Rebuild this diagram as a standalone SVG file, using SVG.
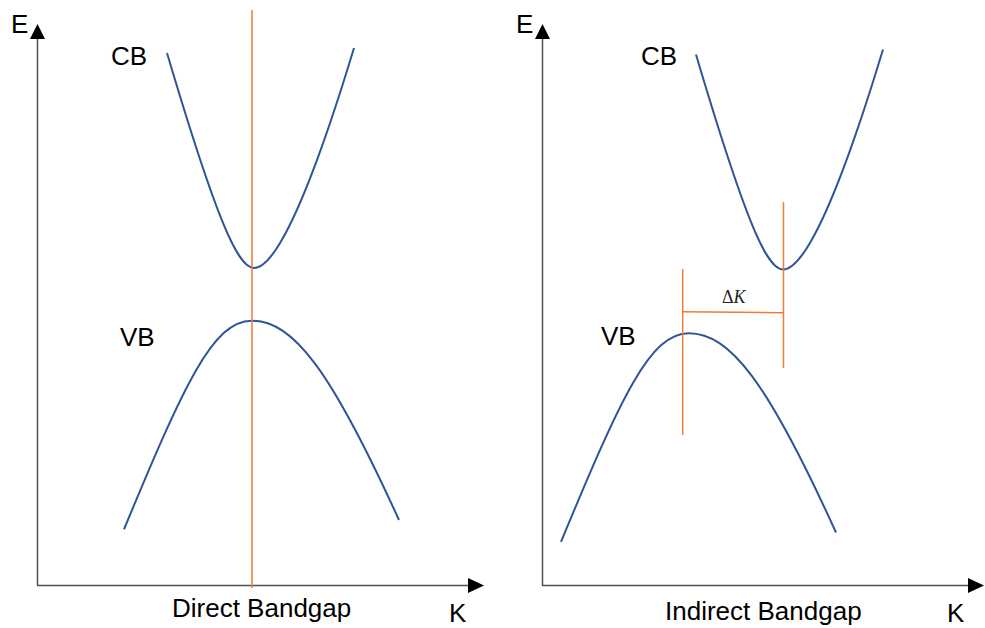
<svg xmlns="http://www.w3.org/2000/svg" width="985" height="628" viewBox="0 0 985 628">
<style>
.axis{stroke:#505050;stroke-width:1.5;fill:none}
.head{fill:#000}
.band{stroke:#2F5597;stroke-width:2;fill:none}
.mark{stroke:#ED7D31;stroke-width:1.5;fill:none}
.lbl{font-family:"Liberation Sans",Arial,sans-serif;font-size:26px;fill:#000}
.dk{font-family:"Liberation Serif","DejaVu Serif",serif;font-size:18px;fill:#222}
</style>
<defs>
<path id="cb" d="M167,53 C217.7,223.9 238.5,268 254,268 C271.8,268 302.6,217.6 354,48"/>
<path id="vb" d="M124,529.3 C184.3,384 213.1,320.7 251.7,320.7 C292.9,320.7 330.2,368.6 399,520"/>
</defs>
<rect width="985" height="628" fill="#fff"/>
<g id="direct-bandgap">
  <g id="axes-left">
    <line class="axis" x1="37.5" y1="585.5" x2="37.5" y2="38"/>
    <polygon class="head" points="30,39 45,39 37.5,24"/>
    <line class="axis" x1="37" y1="585.5" x2="469" y2="585.5"/>
    <polygon class="head" points="468,578 468,593 484,585.5"/>
  </g>
  <g id="bands-left">
    <use href="#cb" class="band"/>
    <use href="#vb" class="band"/>
  </g>
  <line id="gap-line-left" class="mark" x1="252" y1="10" x2="252" y2="588"/>
  <g id="labels-left">
    <text class="lbl" x="11" y="33">E</text>
    <text class="lbl" x="111" y="65">CB</text>
    <text class="lbl" x="120" y="346">VB</text>
    <text class="lbl" x="172" y="617">Direct Bandgap</text>
    <text class="lbl" x="449" y="622">K</text>
  </g>
</g>
<g id="indirect-bandgap">
  <g id="axes-right">
    <line class="axis" x1="542.5" y1="585.5" x2="542.5" y2="38"/>
    <polygon class="head" points="535,39 550,39 542.5,24"/>
    <line class="axis" x1="542" y1="585.5" x2="969" y2="585.5"/>
    <polygon class="head" points="968,578 968,593 984,585.5"/>
  </g>
  <g id="bands-right">
    <use href="#cb" class="band" x="529" y="1.5"/>
    <use href="#vb" class="band" x="437" y="12.5"/>
  </g>
  <g id="delta-k">
    <line class="mark" x1="682.7" y1="269" x2="682.7" y2="435"/>
    <line class="mark" x1="783.5" y1="202" x2="783.5" y2="368"/>
    <line class="mark" x1="682.7" y1="311.7" x2="783.5" y2="312.7"/>
    <text class="dk" x="722" y="303">Δ<tspan font-style="italic">K</tspan></text>
  </g>
  <g id="labels-right">
    <text class="lbl" x="516" y="33">E</text>
    <text class="lbl" x="641" y="65">CB</text>
    <text class="lbl" x="601" y="345">VB</text>
    <text class="lbl" x="665" y="620">Indirect Bandgap</text>
    <text class="lbl" x="947" y="622">K</text>
  </g>
</g>
</svg>
